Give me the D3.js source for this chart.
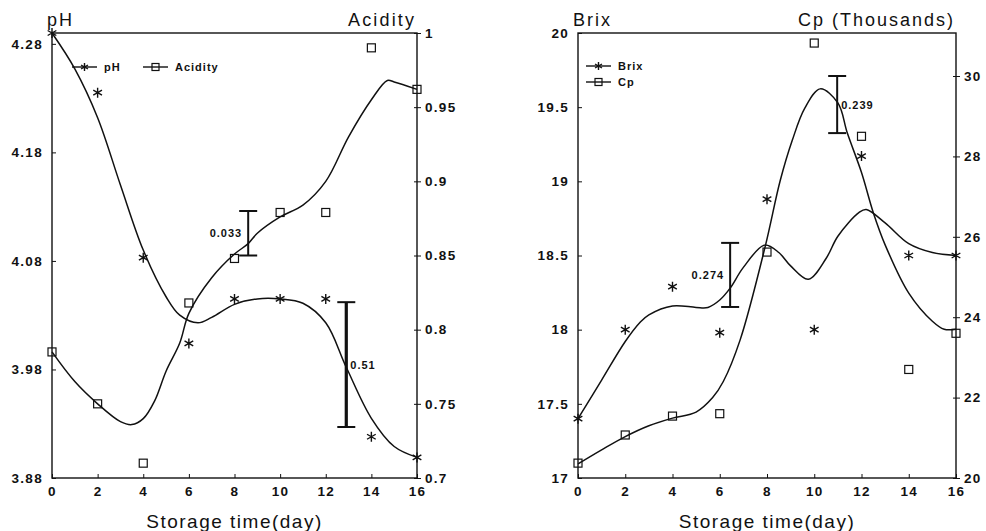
<!DOCTYPE html>
<html><head><meta charset="utf-8">
<script src="https://cdn.jsdelivr.net/npm/d3@7"></script>
<style>
html,body{margin:0;padding:0;background:#fff;}
svg{display:block;}
text{font-family:"Liberation Sans",Arial,Helvetica,sans-serif;fill:#111;}
.tick{font-weight:bold;font-size:13.5px;letter-spacing:1.3px;}
.title{font-size:18px;}
.xtitle{font-size:19px;letter-spacing:1.5px;}
.leg{font-size:11px;font-weight:bold;letter-spacing:1px;}
.lsd{font-size:11px;font-weight:bold;letter-spacing:1px;}
</style></head>
<body>
<svg id="chart" width="986" height="531"></svg>
<script>
// ---------- data ----------
const days = [0, 2, 4, 6, 8, 10, 12, 14, 16];
const xTicks = [0, 2, 4, 6, 8, 10, 12, 14, 16];

// left panel
const pH = [4.29, 4.235, 4.083, 4.004, 4.045, 4.045, 4.045, 3.918, 3.899];
const acidity = [0.785, 0.75, 0.71, 0.818, 0.848, 0.879, 0.879, 0.99, 0.962];
const pHTicks = [3.88, 3.98, 4.08, 4.18, 4.28];
const acidityTicks = [0.7, 0.75, 0.8, 0.85, 0.9, 0.95, 1];
// fitted curves
const pHFitDays = [0, 1, 2, 3, 4, 5, 5.6, 6.4, 7, 8, 9, 10, 11, 12, 12.9, 14, 15, 16];
const pHFit = [4.29, 4.257, 4.212, 4.15, 4.09, 4.047, 4.03, 4.023, 4.028, 4.04, 4.045, 4.045, 4.041, 4.023, 3.982, 3.935, 3.909, 3.899];
const acidityFitDays = [0, 1, 2, 3, 3.5, 4, 4.5, 5, 5.6, 6, 7, 8, 8.6, 9, 10, 11, 12, 13, 14, 14.7, 15, 16];
const acidityFit = [0.785, 0.765, 0.75, 0.738, 0.736, 0.74, 0.752, 0.772, 0.791, 0.811, 0.835, 0.851, 0.858, 0.865, 0.876, 0.884, 0.9, 0.93, 0.955, 0.968, 0.967, 0.962];

// right panel
const brix = [17.4, 18.0, 18.29, 17.98, 18.88, 18.0, 19.17, 18.5, 18.5];
const cp = [20.37, 21.07, 21.54, 21.6, 25.62, 30.82, 28.5, 22.7, 23.6];
const brixTicks = [17, 17.5, 18, 18.5, 19, 19.5, 20];
const cpTicks = [20, 22, 24, 26, 28, 30];
const brixFitDays = [0, 1, 2, 2.63, 3, 4, 5, 5.5, 6, 6.44, 7, 7.9, 8.5, 9, 9.75, 10.5, 11, 11.9, 12.2, 13, 14, 15, 16];
const brixFit = [17.4, 17.66, 17.92, 18.05, 18.1, 18.16, 18.15, 18.15, 18.2, 18.28, 18.42, 18.57, 18.52, 18.43, 18.34, 18.48, 18.63, 18.79, 18.81, 18.72, 18.58, 18.52, 18.5];
const cpFitDays = [0, 1, 2, 3, 4, 5, 5.7, 6.15, 6.86, 7.92, 8.56, 9.07, 9.6, 10.25, 11, 11.4, 12, 12.5, 13, 14, 15, 15.5, 16];
const cpFit = [20.35, 20.7, 21.03, 21.3, 21.49, 21.64, 22.0, 22.4, 23.43, 25.75, 27.4, 28.4, 29.2, 29.68, 29.33, 28.58, 27.6, 26.6, 25.8, 24.6, 23.9, 23.7, 23.7];

// LSD bars
const lsdLabels = ["0.033", "0.51", "0.274", "0.239"];
const lsdDays = [8.6, 12.9, 6.44, 10.97];
const lsdLow = [0.850, 3.927, 18.153, 28.58];
const lsdHigh = [0.880, 4.042, 18.585, 30.0];

// ---------- drawing ----------
const svg = d3.select("#chart");
const plotTop = 33, plotBottom = 478;

function star(g, x, y, r) {
  const p = d3.path();
  p.moveTo(x, y - r); p.lineTo(x, y + r);
  const dx = r * 0.87, dy = r * 0.5;
  p.moveTo(x - dx, y - dy); p.lineTo(x + dx, y + dy);
  p.moveTo(x - dx, y + dy); p.lineTo(x + dx, y - dy);
  g.append("path").attr("d", p.toString()).attr("stroke", "#111").attr("stroke-width", 1.4).attr("fill", "none");
}
function square(g, x, y, s) {
  g.append("rect").attr("x", x - s / 2).attr("y", y - s / 2).attr("width", s).attr("height", s)
    .attr("fill", "none").attr("stroke", "#111").attr("stroke-width", 1.2);
}

function panel(cfg) {
  const g = svg.append("g");
  const x = d3.scaleLinear().domain([0, 16]).range([cfg.x0, cfg.x1]);
  const yL = d3.scaleLinear().domain(cfg.leftDomain).range([plotBottom, plotTop]);
  const yR = d3.scaleLinear().domain(cfg.rightDomain).range([plotBottom, plotTop]);

  // frame
  g.append("rect").attr("x", cfg.x0).attr("y", plotTop).attr("width", cfg.x1 - cfg.x0).attr("height", plotBottom - plotTop)
    .attr("fill", "none").attr("stroke", "#111").attr("stroke-width", 1.4);

  // x axis
  const xa = g.append("g").attr("transform", `translate(0,${plotBottom})`)
    .call(d3.axisBottom(x).tickValues(xTicks).tickSize(-4).tickPadding(11).tickFormat(d3.format("d")));
  xa.select(".domain").remove();
  xa.selectAll("line").attr("stroke", "#111");
  xa.selectAll("text").attr("class", "tick").attr("dy", "0.55em");

  // left axis
  const la = g.append("g").attr("transform", `translate(${cfg.x0},0)`)
    .call(d3.axisLeft(yL).tickValues(cfg.leftTicks).tickSize(-4).tickPadding(9).tickFormat(cfg.leftFmt));
  la.select(".domain").remove();
  la.selectAll("line").attr("stroke", "#111");
  la.selectAll("text").attr("class", "tick");

  // right axis
  const ra = g.append("g").attr("transform", `translate(${cfg.x1},0)`)
    .call(d3.axisRight(yR).tickValues(cfg.rightTicks).tickSize(4).tickPadding(4).tickFormat(cfg.rightFmt));
  ra.select(".domain").remove();
  ra.selectAll("line").attr("stroke", "#111").attr("x1", -3);
  ra.selectAll("text").attr("class", "tick");

  // titles
  g.append("text").attr("class", "title").attr("x", cfg.x0 - 5).attr("y", 26)
    .attr("textLength", cfg.leftTitleW).attr("lengthAdjust", "spacing").text(cfg.leftTitle);
  g.append("text").attr("class", "title").attr("x", cfg.x1 - 3 - cfg.rightTitleW).attr("y", 26)
    .attr("textLength", cfg.rightTitleW).attr("lengthAdjust", "spacing").text(cfg.rightTitle);
  g.append("text").attr("class", "xtitle").attr("x", (cfg.x0 + cfg.x1) / 2).attr("y", 528).attr("text-anchor", "middle").text("Storage time(day)");

  // curves
  const line = (sc) => d3.line().x(d => x(d[0])).y(d => sc(d[1])).curve(d3.curveCatmullRom.alpha(0.5));
  g.append("path").attr("d", line(yL)(d3.zip(cfg.starFitDays, cfg.starFit)))
    .attr("fill", "none").attr("stroke", "#111").attr("stroke-width", 1.5);
  g.append("path").attr("d", line(yR)(d3.zip(cfg.sqFitDays, cfg.sqFit)))
    .attr("fill", "none").attr("stroke", "#111").attr("stroke-width", 1.5);

  // points
  days.forEach((d, i) => star(g, x(d), yL(cfg.starVals[i]), 5));
  days.forEach((d, i) => square(g, x(d), yR(cfg.sqVals[i]), 8));

  // legend
  cfg.legend.forEach(e => {
    g.append("line").attr("x1", e.x).attr("x2", e.x + 25).attr("y1", e.y).attr("y2", e.y).attr("stroke", "#111").attr("stroke-width", 1.4);
    if (e.kind === "star") star(g, e.x + 12.5, e.y, 4); else square(g, e.x + 12.5, e.y, 7);
    g.append("text").attr("class", "leg").attr("x", e.x + 32).attr("y", e.y + 4).text(e.label);
  });

  // LSD bars
  cfg.lsd.forEach(k => {
    const sc = cfg.lsdAxis[k] === "L" ? yL : yR;
    const bx = x(lsdDays[k]);
    const y1 = sc(lsdLow[k]), y2 = sc(lsdHigh[k]);
    const w = cfg.lsdWidth[k];
    g.append("line").attr("x1", bx).attr("x2", bx).attr("y1", y1).attr("y2", y2).attr("stroke", "#111").attr("stroke-width", w);
    [y1, y2].forEach(yy => g.append("line").attr("x1", bx - 9).attr("x2", bx + 9).attr("y1", yy).attr("y2", yy).attr("stroke", "#111").attr("stroke-width", 2));
    const side = cfg.lsdSide[k];
    g.append("text").attr("class", "lsd")
      .attr("x", side === "left" ? bx - 6 : bx + 4)
      .attr("y", (y1 + y2) / 2 + 4)
      .attr("text-anchor", side === "left" ? "end" : "start")
      .text(lsdLabels[k]);
  });
}

panel({
  x0: 52, x1: 417,
  leftDomain: [3.88, 4.29], rightDomain: [0.7, 1.0],
  leftTicks: pHTicks, rightTicks: acidityTicks,
  leftFmt: d3.format(".2f"), rightFmt: d => String(d),
  leftTitle: "pH", rightTitle: "Acidity", leftTitleW: 25, rightTitleW: 66,
  starVals: pH, sqVals: acidity,
  starFitDays: pHFitDays, starFit: pHFit,
  sqFitDays: acidityFitDays, sqFit: acidityFit,
  legend: [{x: 72, y: 67, kind: "star", label: "pH"}, {x: 143, y: 67, kind: "sq", label: "Acidity"}],
  lsd: [0, 1], lsdAxis: {0: "R", 1: "L"}, lsdWidth: {0: 2, 1: 3.2}, lsdSide: {0: "left", 1: "right"}
});

panel({
  x0: 578, x1: 956,
  leftDomain: [17, 20], rightDomain: [20, 31.07],
  leftTicks: brixTicks, rightTicks: cpTicks,
  leftFmt: d => String(d), rightFmt: d => String(d),
  leftTitle: "Brix", rightTitle: "Cp (Thousands)", leftTitleW: 37, rightTitleW: 155,
  starVals: brix, sqVals: cp,
  starFitDays: brixFitDays, starFit: brixFit,
  sqFitDays: cpFitDays, sqFit: cpFit,
  legend: [{x: 586, y: 66, kind: "star", label: "Brix"}, {x: 586, y: 82, kind: "sq", label: "Cp"}],
  lsd: [2, 3], lsdAxis: {2: "L", 3: "R"}, lsdWidth: {2: 2, 3: 2}, lsdSide: {2: "left", 3: "right"}
});
</script>
</body></html>
